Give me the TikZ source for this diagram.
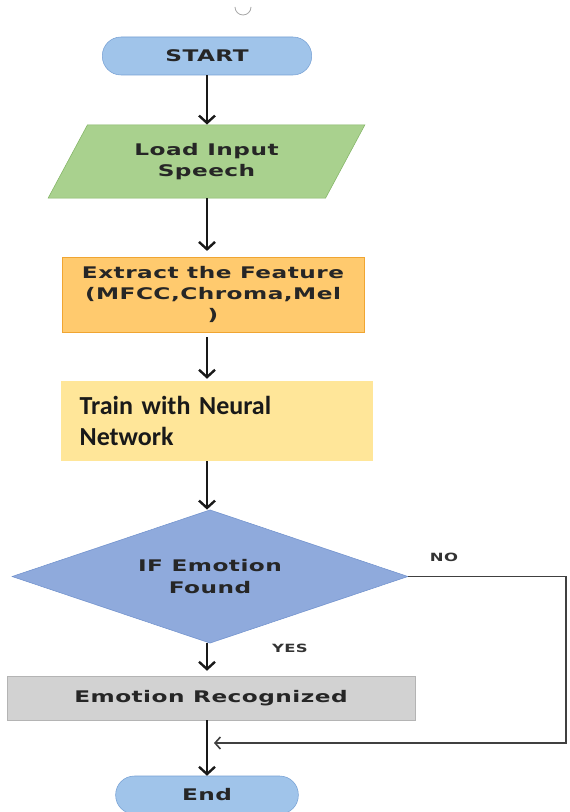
\documentclass[tikz,border=0pt]{standalone}
\usepackage{fontspec}
\usepackage{tikz}
\usetikzlibrary{shapes.geometric, arrows.meta, positioning, calc}
\newfontfamily\boxfont[FakeStretch=1.45, LetterSpace=3]{DejaVu Sans}
\newfontfamily\calfont{Carlito}
\definecolor{pillblue}{RGB}{160,196,234}
\definecolor{pilledge}{RGB}{118,160,212}
\definecolor{loadgreen}{RGB}{169,209,142}
\definecolor{loadedge}{RGB}{130,180,100}
\definecolor{featorange}{RGB}{255,202,110}
\definecolor{featedge}{RGB}{240,165,50}
\definecolor{trainyellow}{RGB}{255,230,153}
\definecolor{decideblue}{RGB}{143,170,220}
\definecolor{decideedge}{RGB}{112,145,205}
\definecolor{recgray}{RGB}{210,210,210}
\definecolor{recedge}{RGB}{180,180,180}
\tikzset{
  pill/.style={draw=pilledge, fill=pillblue, rounded corners=14pt, minimum height=28.5pt, font=\boxfont\bfseries\fontsize{12}{14}\selectfont, text=black!85},
  boxtext/.style={font=\boxfont\bfseries\fontsize{12}{16}\selectfont, align=center, text=black!85},
  flow/.style={-{Straight Barb[length=5.5pt,width=12pt,line width=1.8pt]}, line width=2.1pt, black!90},
  tag/.style={font=\boxfont\bfseries\fontsize{8.5}{10}\selectfont, text=black!80}
}
\begin{document}
\begin{tikzpicture}[x=0.75pt, y=-0.75pt]
    \useasboundingbox[fill=white] (0,0) rectangle (569,812);
    % small mark at the top
    \draw[gray!70, line width=0.6pt] (235,7) arc[start angle=180, end angle=360, radius=6pt];

    % Start
    \node[pill, minimum width=157pt] (start) at (207,56) {START};
    % Load
    \node[trapezium, trapezium left angle=61, trapezium right angle=119, trapezium stretches=true,
          draw=loadedge, fill=loadgreen, minimum width=238pt, minimum height=55pt, boxtext] (load) at (206.5,161.5) {Load Input\\Speech};
    % Feature extraction
    \node[draw=featedge, fill=featorange, minimum width=226.5pt, minimum height=56pt, boxtext] (feat) at (213,294.5) {Extract the Feature\\(MFCC,Chroma,Mel\\)};
    % Training
    \node[fill=trainyellow, minimum width=234pt, minimum height=60pt, text width=206pt, align=left,
          font=\calfont\bfseries\fontsize{19.5}{23.5}\selectfont, text=black!90] (train) at (217,421) {Train with Neural\\Network};
    % Decision
    \node[diamond, aspect=2.97, inner sep=0pt, draw=decideedge, fill=decideblue, minimum width=297pt, minimum height=100pt, boxtext] (decide) at (210,576.5) {IF Emotion\\Found};
    % Result
    \node[draw=recedge, fill=recgray, minimum width=306pt, minimum height=33pt, boxtext] (rec) at (211,698) {Emotion Recognized};
    % End
    \node[pill, minimum width=137pt] (end) at (207,795) {End};

    % Arrows
    \draw[flow] (start.south) -- (load.north -| start);
    \draw[flow] (load.south -| start) -- ($(feat.north -| start)+(0,-6)$);
    \draw[flow] ($(feat.south -| start)+(0,5)$) -- ($(train.north -| start)+(0,-2)$);
    \draw[flow] (train.south -| start) -- (decide.north -| start);
    \draw[flow] (decide.south -| start) -- ($(rec.north -| start)+(0,-5)$);
    \draw[flow] (rec.south -| start) -- (end.north -| start);

    % NO branch
    \coordinate (corner) at (566,743);
    \coordinate (join) at (214,743);
    \draw[-{Straight Barb[length=4pt,width=9pt,line width=1.2pt]}, line width=1.2pt, black!75] (decide.east) -| (corner) -- (join);
    \node[tag] (no) at (444,557) {NO};
    \node[tag] (yes) at (290,648) {YES};
\end{tikzpicture}
\end{document}
